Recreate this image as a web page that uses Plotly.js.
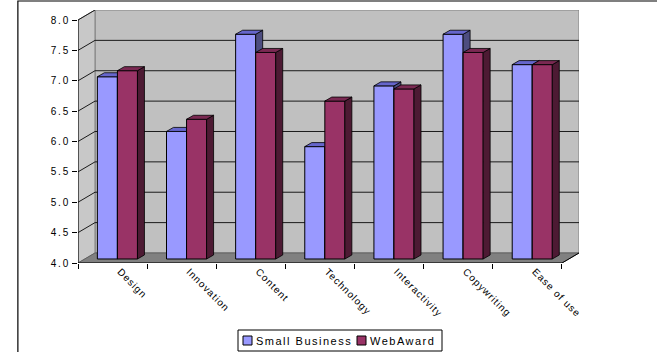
<!DOCTYPE html>
<html>
<head>
<meta charset="utf-8">
<script src="https://cdn.plot.ly/plotly-3.0.1.min.js"></script>
<style>
html,body{margin:0;padding:0;background:#fff;}
#chart{width:657px;height:352px;}
.ytick text{letter-spacing:1.8px;}
.xtick text{letter-spacing:1px;}
.annotation-text{letter-spacing:1.5px;}
</style>
</head>
<body>
<div id="chart"></div>
<script>
// ---- data ----
const categories = ['Design', 'Innovation', 'Content', 'Technology', 'Interactivity', 'Copywriting', 'Ease of use'];
const smallBusiness = [7.0, 6.1, 7.7, 5.85, 6.85, 7.7, 7.2];
const webAward = [7.1, 6.3, 7.4, 6.6, 6.8, 7.4, 7.2];
const yTickVals = [4.0, 4.5, 5.0, 5.5, 6.0, 6.5, 7.0, 7.5, 8.0];
const seriesNames = ['Small Business', 'WebAward'];

// ---- 3D-look geometry (style) ----
const yMin = 4.0, yMax = 8.0;
const wallDX = 0.246, wallDY = 0.165;   // depth of the floor/walls (data units)
const barShiftX = 0.07, barShiftY = 0.066; // front face of bars sits a bit inside
const barDX = 0.101, barDY = 0.066;     // bar depth
const barW = 0.29;
const nCat = categories.length;
const xLo = -0.5, xHi = nCat - 0.5;

const colors = {
  blue: {front: '#9999FF', top: '#6666CC', side: '#4D4D80'},
  red:  {front: '#993366', top: '#7A2952', side: '#4D1A33'}
};

function faces(vals, offset, xaxis, yaxis, col) {
  const topX = [], topY = [], sideX = [], sideY = [];
  vals.forEach((v, i) => {
    const x0 = i + barShiftX + offset, x1 = x0 + barW;
    const t = v + barShiftY, b = yMin + barShiftY;
    topX.push(x0, x1, x1 + barDX, x0 + barDX, x0, null);
    topY.push(t, t, t + barDY, t + barDY, t, null);
    sideX.push(x1, x1, x1 + barDX, x1 + barDX, x1, null);
    sideY.push(b, t, t + barDY, b + barDY, b, null);
  });
  return [
    {type: 'scatter', mode: 'lines', x: sideX, y: sideY, fill: 'toself', fillcolor: col.side,
     line: {color: '#000', width: 0.8}, showlegend: false, hoverinfo: 'skip', xaxis, yaxis},
    {type: 'scatter', mode: 'lines', x: topX, y: topY, fill: 'toself', fillcolor: col.top,
     line: {color: '#000', width: 0.8}, showlegend: false, hoverinfo: 'skip', xaxis, yaxis}
  ];
}

const xs = categories.map((c, i) => i + barShiftX);
const traces = [
  {type: 'bar', name: seriesNames[0], x: xs, y: smallBusiness.map(v => v - yMin),
   base: yMin + barShiftY, offset: -barW, width: barW, showlegend: false,
   marker: {color: colors.blue.front, line: {color: '#000', width: 1}}, xaxis: 'x', yaxis: 'y'},
  ...faces(smallBusiness, -barW, 'x', 'y', colors.blue),
  {type: 'bar', name: seriesNames[1], x: xs, y: webAward.map(v => v - yMin),
   base: yMin + barShiftY, offset: 0, width: barW, showlegend: false,
   marker: {color: colors.red.front, line: {color: '#000', width: 1}}, xaxis: 'x2', yaxis: 'y2'},
  ...faces(webAward, 0, 'x2', 'y2', colors.red)
];

const shapes = [];
// back wall
shapes.push({type: 'rect', xref: 'x', yref: 'y', layer: 'below',
  x0: xLo + wallDX, x1: xHi + wallDX, y0: yMin + wallDY, y1: yMax + wallDY,
  fillcolor: '#C0C0C0', line: {color: '#808080', width: 1}});
// left side wall
shapes.push({type: 'path', xref: 'x', yref: 'y', layer: 'below',
  path: `M${xLo},${yMin} L${xLo + wallDX},${yMin + wallDY} L${xLo + wallDX},${yMax + wallDY} L${xLo},${yMax} Z`,
  fillcolor: '#C8C8C8', line: {color: '#808080', width: 1}});
// floor
shapes.push({type: 'path', xref: 'x', yref: 'y', layer: 'below',
  path: `M${xLo},${yMin} L${xHi},${yMin} L${xHi + wallDX},${yMin + wallDY} L${xLo + wallDX},${yMin + wallDY} Z`,
  fillcolor: '#808080', line: {color: '#606060', width: 1}});
// gridlines on back wall + side wall
yTickVals.forEach(v => {
  if (v > yMin && v < yMax) {
    shapes.push({type: 'line', xref: 'x', yref: 'y', layer: 'below',
      x0: xLo + wallDX, x1: xHi + wallDX, y0: v + wallDY, y1: v + wallDY,
      line: {color: '#1a1a1a', width: 1}});
  }
  if (v > yMin) {
    shapes.push({type: 'line', xref: 'x', yref: 'y', layer: 'below',
      x0: xLo, x1: xLo + wallDX, y0: v, y1: v + wallDY,
      line: {color: '#1a1a1a', width: 1}});
  }
});
// front axis lines
shapes.push({type: 'line', xref: 'x', yref: 'y', layer: 'above',
  x0: xLo, x1: xLo, y0: yMin, y1: yMax, line: {color: '#000', width: 1}});
shapes.push({type: 'line', xref: 'x', yref: 'y', layer: 'above',
  x0: xLo, x1: xHi, y0: yMin, y1: yMin, line: {color: '#000', width: 1}});
shapes.push({type: 'line', xref: 'x', yref: 'y', layer: 'above',
  x0: xHi, x1: xHi + wallDX, y0: yMin, y1: yMin + wallDY, line: {color: '#000', width: 1}});
// outer chart frame
shapes.push({type: 'rect', xref: 'paper', yref: 'paper', layer: 'below',
  x0: -0.12, x1: 1.3, y0: -0.6, y1: 1.0356, line: {color: '#000', width: 1.2}, fillcolor: 'rgba(0,0,0,0)'});

// ---- legend (box, swatches, labels) in paper coordinates ----
const PW = 501, PH = 253, PL = 78, PB = 263;
const px = v => (v - PL) / PW;
const py = v => (PB - v) / PH;
shapes.push({type: 'rect', xref: 'paper', yref: 'paper', layer: 'above',
  x0: px(238), x1: px(442), y0: py(351), y1: py(330), fillcolor: '#fff', line: {color: '#000', width: 1}});
const legendSwatchX = [243, 357];
const legendColors = [colors.blue.front, colors.red.front];
const annotations = [];
seriesNames.forEach((name, k) => {
  shapes.push({type: 'rect', xref: 'paper', yref: 'paper', layer: 'above',
    x0: px(legendSwatchX[k]), x1: px(legendSwatchX[k] + 9), y0: py(345), y1: py(336),
    fillcolor: legendColors[k], line: {color: '#000', width: 1}});
  annotations.push({xref: 'paper', yref: 'paper', x: px(legendSwatchX[k] + 12), y: py(340.5),
    xanchor: 'left', yanchor: 'middle', text: name, showarrow: false, borderpad: 0,
    font: {family: 'Liberation Sans, Arial, sans-serif', size: 11, color: '#000'}});
});

const font = {family: 'Liberation Sans, Arial, sans-serif', size: 10, color: '#000'};
const xRange = [xLo, xHi + wallDX];
const yRange = [yMin, yMax + wallDY];

const layout = {
  width: 657, height: 352,
  margin: {l: 78, r: 78, t: 10, b: 89, autoexpand: false},
  paper_bgcolor: '#fff', plot_bgcolor: 'rgba(0,0,0,0)',
  font: font,
  barmode: 'overlay',
  showlegend: false,
  xaxis: {range: xRange, tickvals: categories.map((c, i) => i + 0.11), ticktext: categories,
    tickangle: 45, ticks: '', showgrid: false, zeroline: false, showline: false,
    tickfont: font, automargin: false},
  xaxis2: {range: xRange, overlaying: 'x', anchor: 'y2', side: 'bottom',
    tickvals: categories.map((c, i) => i - 0.5).concat([xHi]), showticklabels: false,
    ticks: 'outside', ticklen: 5, tickcolor: '#000', tickwidth: 1,
    showgrid: false, zeroline: false, showline: false, automargin: false},
  yaxis: {range: yRange, tickvals: yTickVals, tickformat: '.1f', ticks: 'outside', ticklen: 5,
    tickcolor: '#000', tickwidth: 1, showgrid: false, zeroline: false, showline: false,
    tickfont: font, automargin: false},
  yaxis2: {range: yRange, overlaying: 'y', anchor: 'x2', visible: false},
  shapes: shapes,
  annotations: annotations
};

Plotly.newPlot('chart', traces, layout, {staticPlot: true, displayModeBar: false});
</script>
</body>
</html>
